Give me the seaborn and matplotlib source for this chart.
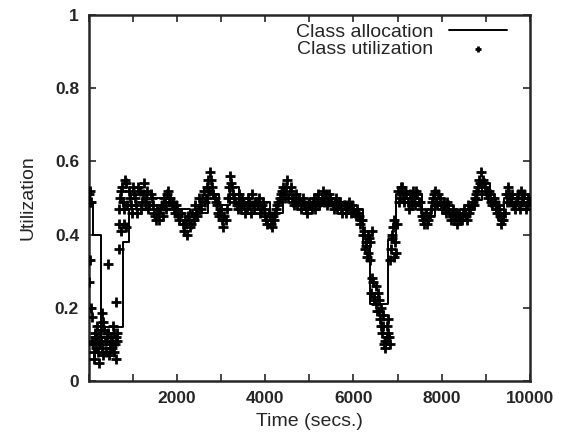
import numpy as np
import pandas as pd
import seaborn as sns
import matplotlib.pyplot as plt
from matplotlib.ticker import MultipleLocator, FuncFormatter

# class utilization, one sample every 50 s (t = 0 .. 9950)
util_step = 50
util_a = [
    0.51, 0.49, 0.10, 0.13, 0.08, 0.12, 0.09, 0.14, 0.11, 0.07,
    0.12, 0.15, 0.10, 0.13, 0.50, 0.53, 0.47, 0.54, 0.52, 0.48,
    0.53, 0.50, 0.46, 0.52, 0.49, 0.54, 0.50, 0.47, 0.51, 0.48,
    0.45, 0.47, 0.44, 0.48, 0.50, 0.47, 0.52, 0.50, 0.49, 0.46,
    0.47, 0.44, 0.46, 0.41, 0.43, 0.45, 0.42, 0.46, 0.48, 0.45,
    0.50, 0.47, 0.52, 0.50, 0.55, 0.57, 0.53, 0.50, 0.48, 0.45,
    0.47, 0.42, 0.44, 0.50, 0.56, 0.53, 0.50, 0.48, 0.51, 0.47,
    0.49, 0.46, 0.50, 0.48, 0.51, 0.47, 0.49, 0.50, 0.47, 0.49,
    0.45, 0.43, 0.45, 0.42, 0.44, 0.47, 0.49, 0.51, 0.53, 0.50,
    0.55, 0.52, 0.50, 0.48, 0.51, 0.49, 0.47, 0.50, 0.48, 0.46,
    0.49, 0.47, 0.50, 0.48, 0.51, 0.49, 0.52, 0.50, 0.48, 0.51,
    0.49, 0.47, 0.50, 0.48, 0.49, 0.46, 0.48, 0.47, 0.49, 0.46,
    0.47, 0.45, 0.46, 0.43, 0.44, 0.36, 0.34, 0.39, 0.24, 0.27,
    0.21, 0.24, 0.17, 0.13, 0.10, 0.15, 0.12, 0.36, 0.42, 0.38,
    0.52, 0.50, 0.53, 0.49, 0.51, 0.47, 0.50, 0.52, 0.48, 0.51,
    0.49, 0.45, 0.43, 0.46, 0.44, 0.47, 0.50, 0.52, 0.48, 0.50,
    0.47, 0.49, 0.46, 0.48, 0.44, 0.47, 0.45, 0.43, 0.46, 0.44,
    0.47, 0.45, 0.48, 0.47, 0.49, 0.50, 0.52, 0.55, 0.57, 0.54,
    0.52, 0.50, 0.51, 0.48, 0.49, 0.46, 0.47, 0.43, 0.44, 0.51,
    0.53, 0.49, 0.51, 0.47, 0.50, 0.48, 0.52, 0.49, 0.47, 0.50,
]

# the in-between samples (t = 25 .. 9975)
util_b = [
    0.49, 0.11, 0.08, 0.12, 0.10, 0.14, 0.07, 0.11, 0.13, 0.09,
    0.11, 0.08, 0.12, 0.47, 0.52, 0.49, 0.55, 0.48, 0.50, 0.46,
    0.51, 0.48, 0.53, 0.47, 0.51, 0.49, 0.52, 0.48, 0.50, 0.46,
    0.44, 0.46, 0.47, 0.45, 0.49, 0.51, 0.49, 0.48, 0.47, 0.48,
    0.45, 0.46, 0.43, 0.44, 0.40, 0.44, 0.43, 0.44, 0.46, 0.47,
    0.48, 0.50, 0.49, 0.53, 0.52, 0.55, 0.51, 0.49, 0.46, 0.47,
    0.44, 0.45, 0.47, 0.53, 0.54, 0.51, 0.49, 0.47, 0.49, 0.50,
    0.48, 0.47, 0.49, 0.46, 0.48, 0.49, 0.48, 0.46, 0.48, 0.47,
    0.44, 0.46, 0.43, 0.45, 0.46, 0.48, 0.50, 0.52, 0.51, 0.53,
    0.50, 0.53, 0.49, 0.50, 0.48, 0.50, 0.49, 0.48, 0.47, 0.48,
    0.48, 0.49, 0.47, 0.50, 0.48, 0.50, 0.49, 0.51, 0.49, 0.50,
    0.48, 0.49, 0.47, 0.49, 0.47, 0.48, 0.46, 0.48, 0.47, 0.48,
    0.46, 0.47, 0.45, 0.44, 0.40, 0.37, 0.35, 0.38, 0.28, 0.23,
    0.19, 0.22, 0.15, 0.18, 0.11, 0.13, 0.10, 0.39, 0.34, 0.43,
    0.49, 0.53, 0.50, 0.52, 0.49, 0.51, 0.48, 0.50, 0.52, 0.49,
    0.47, 0.44, 0.45, 0.43, 0.45, 0.49, 0.51, 0.49, 0.51, 0.48,
    0.48, 0.47, 0.49, 0.46, 0.46, 0.44, 0.46, 0.45, 0.44, 0.46,
    0.46, 0.44, 0.46, 0.48, 0.48, 0.51, 0.53, 0.54, 0.55, 0.53,
    0.51, 0.52, 0.49, 0.50, 0.47, 0.48, 0.45, 0.44, 0.46, 0.49,
    0.51, 0.50, 0.48, 0.49, 0.51, 0.47, 0.50, 0.51, 0.48, 0.49,
]

# extra samples around the start-up transient and the dip near 6500 s
extra_t = [10, 20, 30, 60, 80, 120, 130, 160, 180, 230, 270, 300, 330, 380,
           420, 445, 480, 520, 570, 610, 625, 640, 680, 690, 720, 800, 840,
           6230, 6280, 6320, 6380, 6420, 6460, 6520, 6580, 6620, 6680, 6720,
           6760, 6780, 6830, 6870, 6920, 6970]
extra_u = [0.27, 0.52, 0.33, 0.20, 0.175, 0.06, 0.12, 0.09, 0.15, 0.05, 0.11,
           0.185, 0.16, 0.08, 0.12, 0.32, 0.10, 0.09, 0.13, 0.06, 0.215, 0.11,
           0.36, 0.43, 0.41, 0.43, 0.42,
           0.41, 0.38, 0.40, 0.33, 0.41, 0.22, 0.26, 0.19, 0.20, 0.15, 0.09,
           0.12, 0.17, 0.33, 0.40, 0.44, 0.35]

# class allocation (step changes)
alloc_t = [0, 100, 280, 765, 900, 1300, 1700, 2300, 2700, 2950, 3200, 3400,
           4100, 4400, 4800, 5300, 5900, 6206, 6372, 6780, 6961, 7550, 7850,
           8150, 8500, 8700, 8920, 9100, 9280, 9420, 10000]
alloc_u = [0.486, 0.40, 0.148, 0.38, 0.47, 0.50, 0.47, 0.46, 0.51, 0.48, 0.53,
           0.49, 0.46, 0.50, 0.48, 0.49, 0.47, 0.37, 0.21, 0.385, 0.51, 0.45,
           0.49, 0.46, 0.47, 0.495, 0.54, 0.49, 0.44, 0.50, 0.49]

times_a = [i * util_step for i in range(len(util_a))]
times_b = [i * util_step + util_step // 2 for i in range(len(util_b))]
util_df = pd.DataFrame({
    'time': times_a + times_b + extra_t,
    'util': util_a + util_b + extra_u,
})
alloc_df = pd.DataFrame({'time': alloc_t, 'alloc': alloc_u})

sns.set_style('ticks')
plt.rcParams['font.family'] = ['Liberation Sans', 'DejaVu Sans']

fig = plt.figure(figsize=(5.62, 4.45), dpi=100)
ax = fig.add_axes([0.158, 0.144, 0.785, 0.822])

sns.lineplot(data=alloc_df, x='time', y='alloc', drawstyle='steps-post',
             color='black', linewidth=1.4, ax=ax, zorder=2, label='Class allocation')
sns.scatterplot(data=util_df, x='time', y='util', marker='+', color='black',
                s=50, linewidth=2.0, ax=ax, zorder=3, label='Class utilization')

ax.set_xlim(0, 10000)
ax.set_ylim(0, 1)
ax.xaxis.set_major_locator(MultipleLocator(1000))
ax.xaxis.set_major_formatter(
    FuncFormatter(lambda v, p: f'{int(v)}' if v > 0 and int(v) % 2000 == 0 else ''))
ax.yaxis.set_major_locator(MultipleLocator(0.2))
ax.yaxis.set_major_formatter(FuncFormatter(lambda v, p: f'{v:g}'))
ax.tick_params(direction='in', length=5, width=1.2, top=True, right=True,
               labelsize=12.5, pad=7)
for lab in ax.get_xticklabels() + ax.get_yticklabels():
    lab.set_fontweight('bold')
for sp in ax.spines.values():
    sp.set_linewidth(1.8)
    sp.set_visible(True)

ax.set_xlabel('Time (secs.)', fontsize=14, labelpad=5)
ax.set_ylabel('Utilization', fontsize=14, labelpad=13)

handles, labels = ax.get_legend_handles_labels()
order = [labels.index('Class allocation'), labels.index('Class utilization')]
ax.legend([handles[i] for i in order], [labels[i] for i in order],
          loc='upper right', bbox_to_anchor=(0.97, 1.005), frameon=False,
          markerfirst=False, handlelength=3.0, labelspacing=0.0,
          fontsize=14, borderaxespad=0.1, markerscale=0.6)

fig.savefig('out.png', dpi=100)
